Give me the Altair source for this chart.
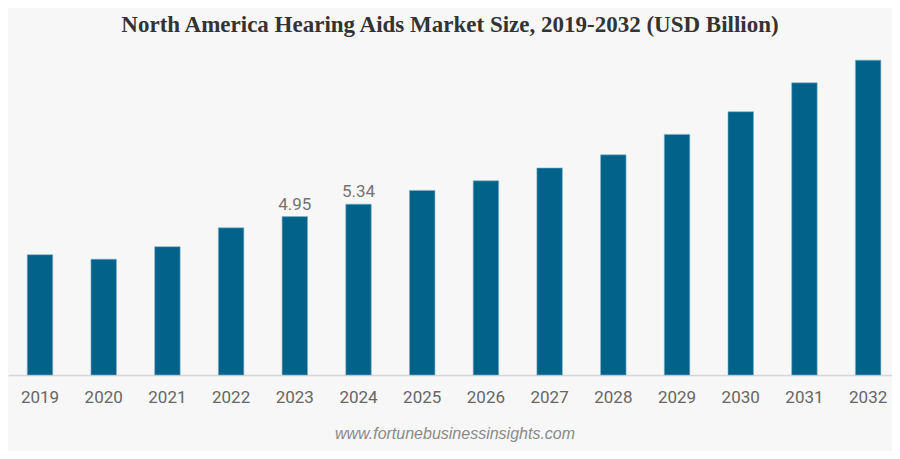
import altair as alt
import pandas as pd

years = ["2019", "2020", "2021", "2022", "2023", "2024", "2025",
         "2026", "2027", "2028", "2029", "2030", "2031", "2032"]
values = [3.76, 3.62, 4.01, 4.60, 4.95, 5.34, 5.77,
          6.07, 6.47, 6.88, 7.52, 8.23, 9.13, 9.84]
shown_labels = ["", "", "", "", "4.95", "5.34", "", "", "", "", "", "", "", ""]

title_text = "North America Hearing Aids Market Size, 2019-2032 (USD Billion)"
source_text = "www.fortunebusinessinsights.com"

df = pd.DataFrame({"year": years, "value": values, "label": shown_labels})

W = 884
H = 367
BG = "#f7f7f7"

x = alt.X("year:N", sort=years, title=None,
          scale=alt.Scale(paddingInner=0.6, paddingOuter=0.2385, align=0.634),
          axis=alt.Axis(labelAngle=0, labelFont="Roboto", labelFontSize=17,
                        labelColor="#666666", labelPadding=14, ticks=False,
                        domainColor="#d6d6d6", domainWidth=1.5))
y = alt.Y("value:Q", title=None, scale=alt.Scale(domain=[0, 11.47], nice=False),
          axis=None)

bars = alt.Chart(df).mark_bar(color="#03628A", stroke="#7fb3c8", strokeWidth=0.6).encode(x=x, y=y)

labels = alt.Chart(df).mark_text(dy=-3, font="Roboto", fontSize=17, color="#737373",
                                 baseline="bottom").encode(
    x=alt.X("year:N", sort=years), y="value:Q", text="label:N")

title = alt.Chart(pd.DataFrame({"t": [title_text]})).mark_text(
    font="Liberation Serif", fontSize=23, fontWeight="bold", color="#333333",
    align="center", baseline="middle").encode(
    x=alt.value(442), y=alt.value(17), text="t:N")

source = alt.Chart(pd.DataFrame({"t": [source_text]})).mark_text(
    font="Liberation Sans", fontSize=16, fontStyle="italic", color="#8a8a8a",
    align="center", baseline="middle").encode(
    x=alt.value(447), y=alt.value(426), text="t:N")

chart = alt.layer(bars, labels, title, source).properties(
    width=W, height=H,
    autosize=alt.AutoSizeParams(type="none"),
    padding={"left": 0, "top": 0, "right": 0, "bottom": 76},
    background=BG,
).configure_view(stroke=None)

chart.save("out.html", embed_options={"renderer": "svg", "actions": False})
